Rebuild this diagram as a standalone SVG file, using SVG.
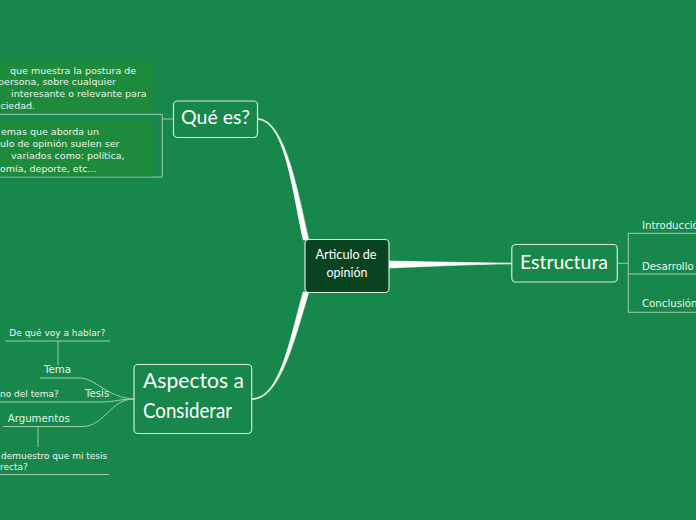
<svg xmlns="http://www.w3.org/2000/svg" width="696" height="520" viewBox="0 0 696 520">
<style>
.node{fill:#17874b;stroke:#d4eadb;stroke-width:1.2}
.center{fill:#0a431f;stroke:#d4eadb;stroke-width:1.2}
.hand{font-family:Lato,"Open Sans",sans-serif;fill:#ffffff}
.txt{font-family:"DejaVu Sans",Verdana,sans-serif;fill:#eaf5ee}
.sm{font-size:9px}
.md{font-size:9.5px}
.lg{font-size:10.2px}
.thin{fill:none;stroke:#9fcfae;stroke-width:1}
.main{fill:#ffffff;stroke:#ffffff;stroke-width:0.6}
.note{fill:#1e8a3b}
</style>
<rect width="696" height="520" fill="#17874b"/>
<g id="connectors">
<path class="main" d="M257 118.5 C284 118.5 296.5 185 308.8 240 L303.2 240 C291.5 185 284 119.5 257 119.5 Z"/>
<path class="main" d="M252 398.5 C280 398.5 289.5 340 303.2 292 L308.8 292 C294.5 340 280 399.5 252 399.5 Z"/>
<path class="main" d="M388 261 C440 262 480 263 512 263 L512 264 C480 264 440 266 388 268 Z"/>
<path class="thin" d="M162.3 119 L173.5 119"/>
<path class="thin" d="M0 114.3 L162.3 114.3 L162.3 177 L0 177"/>
<path class="thin" d="M617.3 263.3 L628.3 263.3"/>
<path class="thin" d="M696 233.3 L628.3 233.3 L628.3 312.3 L696 312.3 M628.3 274 L696 274"/>
<path class="thin" d="M40 378 L80 378 C95 378 108 398 134 399"/>
<path class="thin" d="M0 402 L100 402 C115 402 120 399 134 399"/>
<path class="thin" d="M3 426.5 L82 426.5 C105 426.5 110 399 134 399"/>
<path class="thin" d="M5 341 L110 341 M58 341 L58 365"/>
<path class="thin" d="M38 426.5 L38 447 M0 474.5 L109 474.5"/>
</g>
<g id="center">
<rect class="center" x="305" y="239.5" width="84" height="53" rx="4"/>
<text class="hand" x="346" y="259" font-size="14" text-anchor="middle" textLength="61" lengthAdjust="spacingAndGlyphs">Articulo de</text>
<text class="hand" x="347" y="277" font-size="14" text-anchor="middle" textLength="41" lengthAdjust="spacingAndGlyphs">opinión</text>
</g>
<g id="que-es">
<rect class="node" x="173.5" y="101" width="84" height="36.5" rx="4"/>
<text class="hand" x="181" y="124" font-size="19" textLength="69" lengthAdjust="spacingAndGlyphs">Qué es?</text>
</g>
<g id="que-es-notes">
<rect class="note" x="0" y="61" width="152.5" height="51"/>
<rect class="note" x="0" y="122.5" width="152.5" height="54"/>
<text class="txt md" x="10" y="73.5">que muestra la postura de</text>
<text class="txt md" x="-2" y="85">persona, sobre cualquier</text>
<text class="txt md" x="11" y="96.5">interesante o relevante para</text>
<text class="txt md" x="0.5" y="108.5">ciedad.</text>
<text class="txt md" x="1" y="134.5">emas que aborda un</text>
<text class="txt md" x="0" y="146.8">ulo de opinión suelen ser</text>
<text class="txt md" x="11" y="158.5">variados como: política,</text>
<text class="txt md" x="0" y="171.8">omía, deporte, etc...</text>
</g>
<g id="estructura">
<rect class="node" x="511.8" y="244.5" width="105.5" height="37.5" rx="4"/>
<text class="hand" x="520" y="269" font-size="20" textLength="88" lengthAdjust="spacingAndGlyphs">Estructura</text>
</g>
<g id="estructura-items">
<text class="txt lg" x="642" y="228.5">Introducción</text>
<text class="txt lg" x="642" y="269.5">Desarrollo</text>
<text class="txt lg" x="642" y="306.5">Conclusión</text>
</g>
<g id="aspectos">
<rect class="node" x="134" y="364.5" width="117.7" height="69" rx="4"/>
<text class="hand" x="143" y="388" font-size="22" textLength="101" lengthAdjust="spacingAndGlyphs">Aspectos a</text>
<text class="hand" x="143" y="418" font-size="22" textLength="89" lengthAdjust="spacingAndGlyphs">Considerar</text>
</g>
<g id="aspectos-items">
<text class="txt sm" x="9.3" y="335.5">De qué voy a hablar?</text>
<text class="txt lg" x="44" y="373">Tema</text>
<text class="txt sm" x="0" y="396.5">no del tema?</text>
<text class="txt lg" x="85" y="397">Tesis</text>
<text class="txt lg" x="7.7" y="422">Argumentos</text>
<text class="txt sm" x="1" y="458.5">demuestro que mi tesis</text>
<text class="txt sm" x="0" y="469.5">recta?</text>
</g>
</svg>
